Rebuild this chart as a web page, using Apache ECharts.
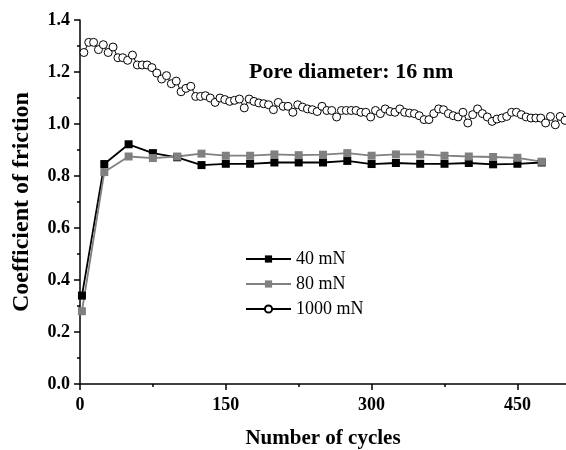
<!DOCTYPE html>
<html>
<head>
<meta charset="utf-8">
<script src="https://cdn.jsdelivr.net/npm/echarts@6/dist/echarts.min.js"></script>
<style>
  html, body { margin: 0; padding: 0; background: #fff; }
  #chart { width: 566px; height: 450px; }
</style>
</head>
<body>
<div id="chart"></div>
<script>
// squares (40 mN, 80 mN) sampled every 25 cycles
const cyclesSq = [2, 25, 50, 75, 100, 125, 150, 175, 200, 225, 250, 275, 300, 325, 350, 375, 400, 425, 450, 475]
const cof40 = [0.34, 0.846, 0.922, 0.888, 0.872, 0.842, 0.847, 0.847, 0.852, 0.852, 0.852, 0.858, 0.846, 0.85, 0.847, 0.847, 0.85, 0.845, 0.847, 0.852]
const cof80 = [0.28, 0.815, 0.875, 0.869, 0.875, 0.886, 0.878, 0.878, 0.883, 0.88, 0.882, 0.888, 0.878, 0.883, 0.883, 0.878, 0.875, 0.873, 0.87, 0.855]

// circles (1000 mN)
const cyclesCi = [4, 9, 14, 19, 24, 29, 34, 39, 44, 49, 54, 59, 64, 69, 74, 79, 84, 89, 94, 99,
  104, 109, 114, 119, 124, 129, 134, 139, 144, 149, 154, 159, 164, 169, 174, 179, 184, 189, 194, 199,
  204, 209, 214, 219, 224, 229, 234, 239, 244, 249, 254, 259, 264, 269, 274, 279, 284, 289, 294, 299,
  304, 309, 314, 319, 324, 329, 334, 339, 344, 349, 354, 359, 364, 369, 374, 379, 384, 389, 394, 399,
  404, 409, 414, 419, 424, 429, 434, 439, 444, 449, 454, 459, 464, 469, 474, 479, 484, 489, 494, 499]
const cof1000 = [1.275, 1.314, 1.314, 1.286, 1.305, 1.275, 1.296, 1.255, 1.255, 1.245, 1.265, 1.227, 1.227, 1.227, 1.217, 1.196, 1.173, 1.186, 1.155, 1.165,
  1.124, 1.137, 1.145, 1.106, 1.106, 1.109, 1.1, 1.083, 1.1, 1.094, 1.087, 1.091, 1.096, 1.062, 1.096, 1.087, 1.081, 1.078, 1.074, 1.055,
  1.083, 1.068, 1.068, 1.045, 1.074, 1.065, 1.058, 1.055, 1.048, 1.068, 1.052, 1.052, 1.027, 1.052, 1.052, 1.052, 1.052, 1.045, 1.045, 1.027,
  1.052, 1.04, 1.058, 1.048, 1.045, 1.058, 1.045, 1.042, 1.04, 1.032, 1.017, 1.017, 1.04, 1.058, 1.055, 1.04, 1.032, 1.027, 1.045, 1.004,
  1.036, 1.058, 1.04, 1.027, 1.01, 1.019, 1.023, 1.029, 1.045, 1.045, 1.036, 1.027, 1.023, 1.023, 1.023, 1.004, 1.029, 0.997, 1.029, 1.014]

const xMajor = [0, 150, 300, 450]
const xMinor = [75, 225, 375]

const zip = (xs, ys) => xs.map((x, i) => [x, ys[i]])
const serif = 'Liberation Serif'

const chart = echarts.init(document.getElementById('chart'))
chart.setOption({
  animation: false,
  title: {
    text: 'Pore diameter: 16 nm',
    left: 244,
    top: 56,
    textStyle: { fontFamily: serif, fontWeight: 'bold', fontSize: 22, color: '#000' },
  },
  legend: {
    orient: 'vertical',
    left: 240,
    top: 245,
    itemWidth: 45,
    itemHeight: 9,
    itemGap: 7,
    data: ['40 mN', '80 mN', '1000 mN'],
    textStyle: { fontFamily: serif, fontSize: 18, color: '#000' },
  },
  grid: { left: 80, right: 0, top: 20, bottom: 66, outerBoundsMode: 'none' },
  xAxis: [
    {
      type: 'value',
      min: 0,
      max: 500,
      name: 'Number of cycles',
      nameLocation: 'middle',
      nameGap: 44,
      nameTextStyle: { fontFamily: serif, fontWeight: 'bold', fontSize: 21, color: '#000' },
      axisLine: { lineStyle: { color: '#000', width: 1.5 } },
      axisTick: { customValues: xMajor, inside: false, length: 6, lineStyle: { color: '#000', width: 1.5 } },
      axisLabel: { customValues: xMajor, margin: 12, fontFamily: serif, fontWeight: 'bold', fontSize: 18, color: '#000' },
      splitLine: { show: false },
    },
    {
      // minor ticks only
      type: 'value',
      position: 'bottom',
      min: 0,
      max: 500,
      axisLine: { show: false },
      axisTick: { customValues: xMinor, length: 3, lineStyle: { color: '#000', width: 1.5 } },
      axisLabel: { show: false },
      splitLine: { show: false },
    },
  ],
  yAxis: {
    type: 'value',
    min: 0,
    max: 1.4,
    interval: 0.2,
    name: 'Coefficient of friction',
    nameLocation: 'middle',
    nameGap: 46,
    nameTextStyle: { fontFamily: serif, fontWeight: 'bold', fontSize: 24, color: '#000' },
    axisLine: { show: true, lineStyle: { color: '#000', width: 1.5 } },
    axisTick: { show: true, length: 6, lineStyle: { color: '#000', width: 1.5 } },
    minorTick: { show: true, splitNumber: 2, length: 3, lineStyle: { color: '#000', width: 1.5 } },
    axisLabel: {
      margin: 10,
      fontFamily: serif,
      fontWeight: 'bold',
      fontSize: 18,
      color: '#000',
      formatter: (v) => v.toFixed(1),
    },
    splitLine: { show: false },
  },
  series: [
    {
      name: '1000 mN',
      type: 'line',
      data: zip(cyclesCi, cof1000),
      symbol: 'circle',
      symbolSize: 8,
      showAllSymbol: true,
      lineStyle: { color: '#000', width: 1 },
      itemStyle: { color: '#fff', borderColor: '#000', borderWidth: 1 },
    },
    {
      name: '40 mN',
      type: 'line',
      data: zip(cyclesSq, cof40),
      symbol: 'rect',
      symbolSize: 8,
      lineStyle: { color: '#000', width: 1.8 },
      itemStyle: { color: '#000' },
    },
    {
      name: '80 mN',
      type: 'line',
      data: zip(cyclesSq, cof80),
      symbol: 'rect',
      symbolSize: 8,
      lineStyle: { color: '#808080', width: 1.8 },
      itemStyle: { color: '#808080' },
    },
  ],
})
</script>
</body>
</html>
